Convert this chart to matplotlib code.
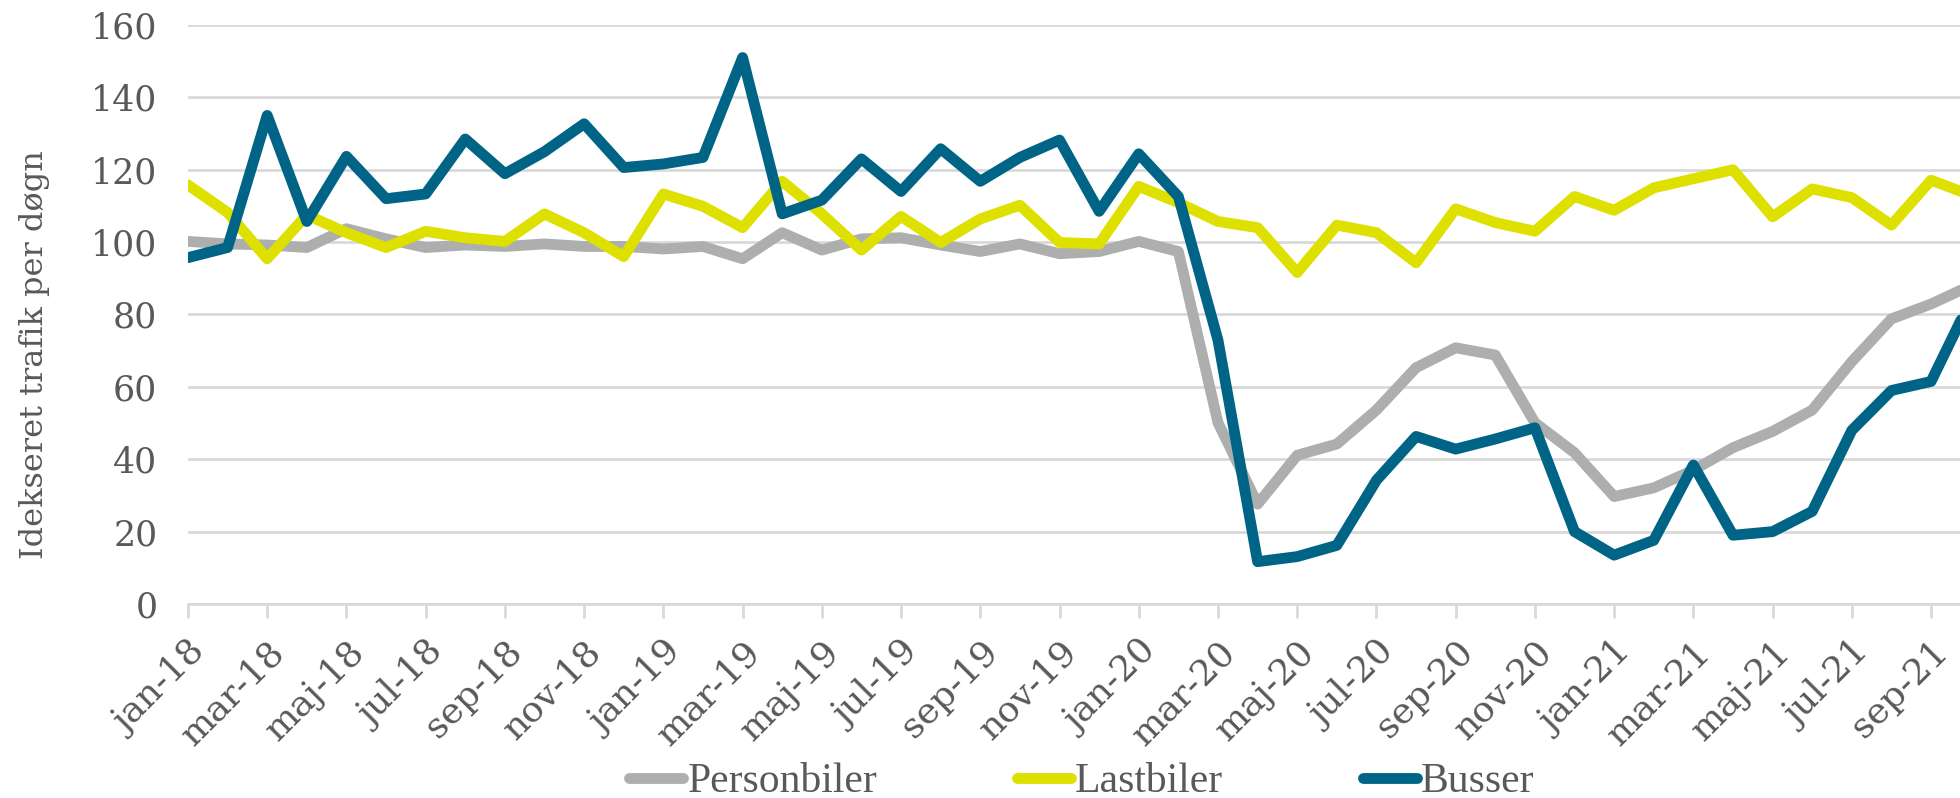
import matplotlib.pyplot as plt
import numpy as np

# --------- DATA ----------
months = ['jan', 'feb', 'mar', 'apr', 'maj', 'jun', 'jul', 'aug', 'sep', 'okt', 'nov', 'dec']
labels = ['%s-%02d' % (m, y) for y in [18, 19, 20, 21] for m in months][:46]

personbiler = [100.2, 99.5, 99.2, 98.5, 103.7, 100.9, 98.5, 99.2, 98.8, 99.5, 98.8, 98.8,
               98.1, 98.8, 95.4, 102.6, 97.8, 100.9, 101.2, 99.2, 97.4, 99.5, 96.8, 97.4,
               100.2, 97.4, 50.1, 27.6, 41.1, 44.2, 53.6, 65.3, 70.8, 68.8, 50.1, 41.8,
               29.7, 32.1, 37.0, 43.2, 47.7, 53.6, 67.0, 78.8, 82.9, 88.0]
lastbiler = [115.8, 108.2, 95.4, 107.5, 102.6, 98.5, 103.0, 101.2, 100.2, 107.8, 102.6, 96.0,
             113.3, 109.9, 104.0, 116.8, 107.8, 97.8, 107.1, 99.9, 106.4, 110.2, 99.9, 99.5,
             115.4, 110.9, 105.7, 104.0, 91.6, 104.7, 102.6, 94.3, 109.2, 105.4, 103.0, 112.6,
             108.8, 115.0, 117.5, 120.0, 107.0, 114.7, 112.3, 104.7, 117.1, 113.0]
busser = [95.7, 98.5, 135.0, 105.7, 123.7, 112.0, 113.3, 128.5, 118.9, 125.0, 132.7, 120.6,
          121.6, 123.4, 151.0, 107.8, 111.6, 123.0, 114.0, 125.8, 116.8, 123.4, 128.2, 108.5,
          124.4, 112.6, 72.9, 11.7, 13.1, 16.2, 34.2, 46.3, 42.8, 45.6, 48.7, 20.0,
          13.5, 17.6, 38.4, 19.0, 20.0, 25.6, 48.0, 59.0, 61.5, 84.0]

series_names = ['Personbiler', 'Lastbiler', 'Busser']
colors = ['#ADAFAE', '#DEE000', '#006487']
# -------------------------

x = np.arange(len(labels))
txt = '#595959'

fig = plt.figure(figsize=(19.6, 7.98), dpi=100)
ax = fig.add_axes([0.0959, 0.2431, 1 - 0.0959, 0.9687 - 0.2431])

for vals, name, c in zip([personbiler, lastbiler, busser], series_names, colors):
    ax.plot(x, vals, color=c, lw=7.8, label=name,
            solid_joinstyle='round', solid_capstyle='round')

ax.set_xlim(0, 44.73)
ax.set_ylim(0, 160)
ax.set_yticks(np.arange(0, 161, 20))
ax.yaxis.grid(True, color='#D9D9D9', lw=2)
ax.set_axisbelow(True)

for s in ['top', 'right', 'left']:
    ax.spines[s].set_visible(False)
ax.spines['bottom'].set_color('#D9D9D9')
ax.spines['bottom'].set_linewidth(2)

ax.set_xticks(x[::2])
ax.set_xticklabels(labels[::2], rotation=45, ha='right', rotation_mode='anchor',
                   family='DejaVu Serif', fontsize=26, color=txt)
ax.tick_params(axis='x', length=10, width=2, color='#D9D9D9', pad=12)
ax.tick_params(axis='y', length=0, pad=22, labelsize=25, labelcolor=txt)
for t in ax.get_yticklabels():
    t.set_family('DejaVu Serif')

ax.set_ylabel('Idekseret trafik per døgn', family='DejaVu Serif', fontsize=23, color=txt)
ax.yaxis.set_label_coords(-0.078, 0.43)

fig.legend(loc='center', bbox_to_anchor=(0.552, 0.02), ncol=3, frameon=False,
           prop={'family': 'Liberation Serif', 'size': 30}, handlelength=1.3,
           handletextpad=0.1, columnspacing=3.35, labelcolor=txt)

plt.savefig('out.png', dpi=100)
